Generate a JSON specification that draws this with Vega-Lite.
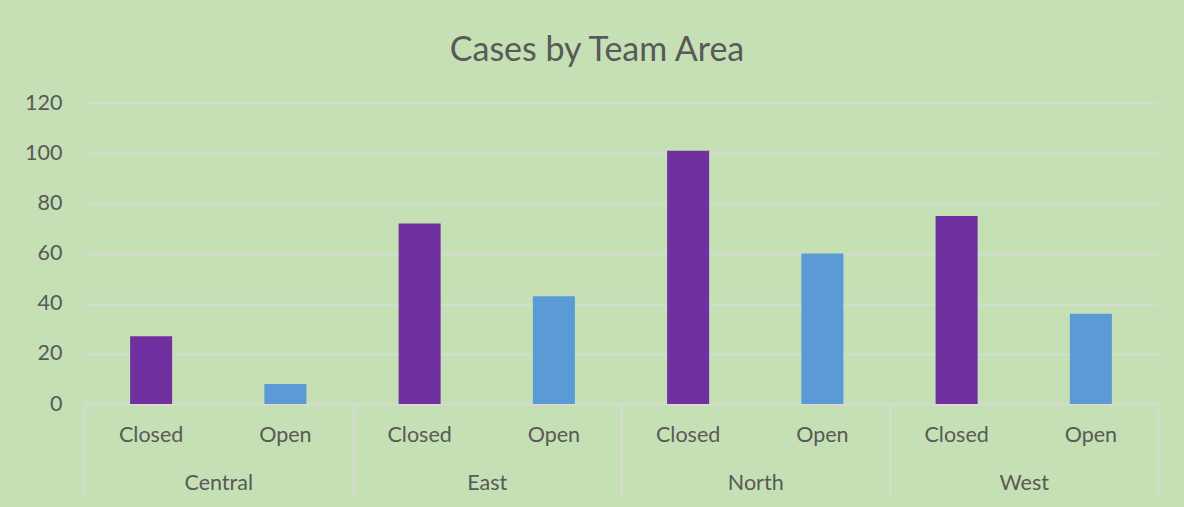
{
  "$schema": "https://vega.github.io/schema/vega-lite/v6.json",
  "width": 1074,
  "height": 301,
  "autosize": {"type": "none"},
  "padding": {"left": 84, "top": 103, "right": 26, "bottom": 103},
  "background": "#C5E0B4",
  "config": {"view": {"stroke": null}},
  "title": {
    "text": "Cases by Team Area",
    "font": "Lato",
    "fontSize": 34,
    "fontWeight": "normal",
    "color": "#595959",
    "anchor": "middle",
    "dx": -24,
    "offset": 24
  },
  "data": {
    "values": [
      {"area": "Central", "status": "Closed", "cases": 27},
      {"area": "Central", "status": "Open", "cases": 8},
      {"area": "East", "status": "Closed", "cases": 72},
      {"area": "East", "status": "Open", "cases": 43},
      {"area": "North", "status": "Closed", "cases": 101},
      {"area": "North", "status": "Open", "cases": 60},
      {"area": "West", "status": "Closed", "cases": 75},
      {"area": "West", "status": "Open", "cases": 36}
    ]
  },
  "encoding": {
    "x": {
      "field": "area",
      "type": "nominal",
      "sort": null,
      "scale": {"paddingInner": 0, "paddingOuter": 0},
      "axis": {
        "title": null,
        "labelAngle": 0,
        "grid": false,
        "ticks": true,
        "tickBand": "extent",
        "tickSize": 93,
        "tickColor": "#D9D9D9",
        "tickWidth": 1.5,
        "domainColor": "#D9D9D9",
        "domainWidth": 1.5,
        "labelPadding": -25,
        "labelFont": "Lato",
        "labelFontSize": 21.5,
        "labelColor": "#595959"
      }
    },
    "xOffset": {
      "field": "status",
      "type": "nominal",
      "sort": null,
      "scale": {"paddingInner": 0.687, "paddingOuter": 0.3435}
    }
  },
  "layer": [
    {
      "mark": {"type": "bar"},
      "encoding": {
        "y": {
          "field": "cases",
          "type": "quantitative",
          "scale": {"domain": [0, 120]},
          "axis": {
            "title": null,
            "values": [0, 20, 40, 60, 80, 100, 120],
            "domain": false,
            "ticks": false,
            "grid": true,
            "gridColor": "#D9D9D9",
            "gridWidth": 1.3,
            "labelPadding": 22,
            "labelFont": "Lato",
            "labelFontSize": 21.5,
            "labelColor": "#595959"
          }
        },
        "color": {
          "field": "status",
          "type": "nominal",
          "scale": {"domain": ["Closed", "Open"], "range": ["#7030A0", "#5B9BD5"]},
          "legend": null
        }
      }
    },
    {
      "mark": {"type": "text", "dy": 32, "baseline": "middle", "font": "Lato", "fontSize": 21.5, "color": "#595959"},
      "encoding": {
        "y": {"datum": 0, "type": "quantitative"},
        "text": {"field": "status", "type": "nominal"}
      }
    }
  ]
}
